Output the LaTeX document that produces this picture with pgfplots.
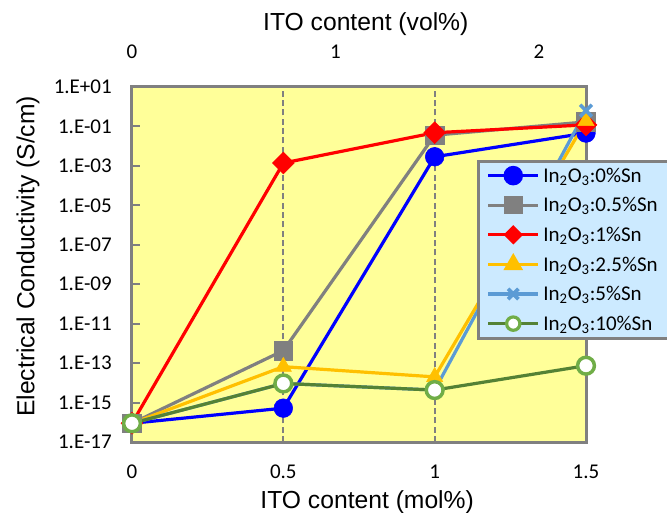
\documentclass[border=0pt]{standalone}
\usepackage{pgfplots}
\usepackage{pgfplotstable}
\pgfplotsset{compat=1.18}
\usepackage{fontspec}
\setmainfont{Liberation Sans}
\newfontfamily\carlito{Carlito}
\definecolor{cBlue}{RGB}{0,0,255}
\definecolor{cGray}{RGB}{128,128,128}
\definecolor{cRed}{RGB}{255,0,0}
\definecolor{cYel}{RGB}{255,192,0}
\definecolor{cLBlue}{RGB}{91,155,213}
\definecolor{cGreen}{RGB}{84,130,53}
\definecolor{cGreenM}{RGB}{112,173,71}
\definecolor{cBg}{RGB}{255,255,153}
\definecolor{cLegend}{RGB}{204,234,255}
\definecolor{cFrame}{RGB}{128,128,128}

\pgfplotstableread{
x    s0      s05     s1      s25     s5      s10
0    8.9e-17 8.9e-17 8.9e-17 8.9e-17 8.9e-17 8.9e-17
0.5  5.2e-16 4.3e-13 1.4e-3  6.6e-14 9.3e-15 9.3e-15
1    2.9e-3  3.6e-2  4.8e-2  2.0e-14 4.3e-15 4.3e-15
1.5  4.6e-2  1.7e-1  1.2e-1  1.9e-1  6.3e-1  7.4e-14
}\data

\begin{document}
\begin{tikzpicture}
\begin{axis}[
  at={(0pt,0pt)}, anchor=south west,
  scale only axis, width=340.5pt, height=266.25pt,
  xmin=0, xmax=1.5, ymode=log, ymin=1e-17, ymax=1e1,
  axis background/.style={fill=cBg},
  axis line style={draw=cFrame, line width=2.25pt},
  xtick={0,0.5,1,1.5}, xticklabels={0,0.5,1,1.5},
  ytick={1e-17,1e-15,1e-13,1e-11,1e-9,1e-7,1e-5,1e-3,1e-1,1e1},
  yticklabels={1.E-17,1.E-15,1.E-13,1.E-11,1.E-09,1.E-07,1.E-05,1.E-03,1.E-01,1.E+01},
  minor ytick={}, ytick pos=left, xtick pos=bottom,
  tick align=inside, major tick length=6pt,
  xtick style={draw=none},
  ytick style={draw=cFrame, line width=1.5pt},
  ticklabel style={font=\carlito\fontsize{15.75}{18}\selectfont},
  yticklabel style={anchor=east, inner sep=0pt, xshift=-15pt},
  xticklabel style={anchor=center, inner sep=0pt, yshift=-22.5pt},
  xlabel={ITO content (mol\%)},
  ylabel={Electrical Conductivity (S/cm)},
  label style={font=\fontsize{18.5}{21}\selectfont},
  xlabel style={at={([yshift=-45pt]axis description cs:0.518,0)}, anchor=center},
  ylabel style={at={([xshift=-78pt]axis description cs:0,0.523)}, anchor=center},
  clip=false,
  legend style={at={(axis description cs:0.760,0.794)}, anchor=north west,
    fill=cLegend, draw=cFrame, line width=2.25pt,
    font=\carlito\fontsize{15.75}{18}\selectfont,
    row sep=4.2pt, inner xsep=6pt, inner ysep=2pt,
    nodes={inner ysep=1pt, inner xsep=2.5pt, text height=12.5pt, text depth=3.5pt}},
  legend cell align=left,
  legend image code/.code={\draw[mark repeat=2,mark phase=2,#1] plot coordinates {(0pt,0.5pt)(18.75pt,0.5pt)(37.5pt,0.5pt)};},
]
\draw[cFrame, line width=1.5pt, dash pattern=on 4.5pt off 2.5pt] (axis cs:0.5,1e-17) -- (axis cs:0.5,1e1);
\draw[cFrame, line width=1.5pt, dash pattern=on 4.5pt off 2.5pt] (axis cs:1,1e-17) -- (axis cs:1,1e1);
% lines
\addplot[cBlue, line width=2.4pt, forget plot] table[x=x,y=s0]{\data};
\addplot[cGray, line width=2.4pt, forget plot] table[x=x,y=s05]{\data};
\addplot[cRed, line width=2.4pt, forget plot] table[x=x,y=s1]{\data};
\addplot[cYel, line width=2.4pt, forget plot] table[x=x,y=s25]{\data};
\addplot[cLBlue, line width=2.4pt, forget plot] table[x=x,y=s5]{\data};
\addplot[cGreen, line width=2.4pt, forget plot] table[x=x,y=s10]{\data};
% markers
\addplot[only marks, mark=*, mark size=7pt, draw=cBlue, fill=cBlue, forget plot] table[x=x,y=s0]{\data};
\addplot[only marks, mark=square*, mark size=7pt, draw=cGray, fill=cGray, forget plot] table[x=x,y=s05]{\data};
\addplot[only marks, mark=square*, mark size=5.8pt, mark options={rotate=45}, draw=cRed, fill=cRed, forget plot] table[x=x,y=s1]{\data};
\addplot[only marks, mark=triangle*, mark size=7pt, draw=cYel, fill=cYel, forget plot] table[x=x,y=s25]{\data};
\addplot[only marks, mark=x, mark size=6.2pt, draw=cLBlue, line width=2.6pt, forget plot] table[x=x,y=s5]{\data};
\addplot[only marks, mark=*, mark size=6.3pt, draw=cGreenM, fill=white, line width=2.6pt, forget plot] table[x=x,y=s10]{\data};
% legend
\addlegendimage{cBlue, line width=2.25pt, mark=*, mark size=6.2pt, mark options={fill=cBlue}}
\addlegendentry{In\textsubscript{2}O\textsubscript{3}:0\%Sn}
\addlegendimage{cGray, line width=2.25pt, mark=square*, mark size=5.8pt, mark options={fill=cGray}}
\addlegendentry{In\textsubscript{2}O\textsubscript{3}:0.5\%Sn}
\addlegendimage{cRed, line width=2.25pt, mark=square*, mark size=4pt, mark options={rotate=45, fill=cRed}}
\addlegendentry{In\textsubscript{2}O\textsubscript{3}:1\%Sn}
\addlegendimage{cYel, line width=2.25pt, mark=triangle*, mark size=6.3pt, mark options={fill=cYel}}
\addlegendentry{In\textsubscript{2}O\textsubscript{3}:2.5\%Sn}
\addlegendimage{cLBlue, line width=2.6pt, mark=x, mark size=5.5pt, every mark/.append style={line width=2.8pt}}
\addlegendentry{In\textsubscript{2}O\textsubscript{3}:5\%Sn}
\addlegendimage{cGreen, line width=2.25pt, mark=*, mark size=5pt, mark options={draw=cGreenM, fill=white, line width=2.4pt}}
\addlegendentry{In\textsubscript{2}O\textsubscript{3}:10\%Sn}
\end{axis}
\begin{axis}[
  at={(0pt,0pt)}, anchor=south west,
  scale only axis, width=340.5pt, height=266.25pt,
  xmin=0, xmax=2.2315, ymin=0, ymax=1,
  axis x line*=top, hide y axis, axis line style={draw=none},
  xtick={0,1,2}, xticklabels={0,1,2}, xtick style={draw=none},
  ticklabel style={font=\carlito\fontsize{15.75}{18}\selectfont},
  xticklabel style={anchor=center, inner sep=0pt, yshift=26.25pt},
  xlabel={ITO content (vol\%)},
  label style={font=\fontsize{18.5}{21}\selectfont},
  xlabel style={at={([yshift=47pt]axis description cs:0.515,1)}, anchor=center},
]
\end{axis}
\pgfresetboundingbox
\path[use as bounding box] (-99pt,-53.25pt) rectangle (401.25pt,331.5pt);
\end{tikzpicture}
\end{document}
